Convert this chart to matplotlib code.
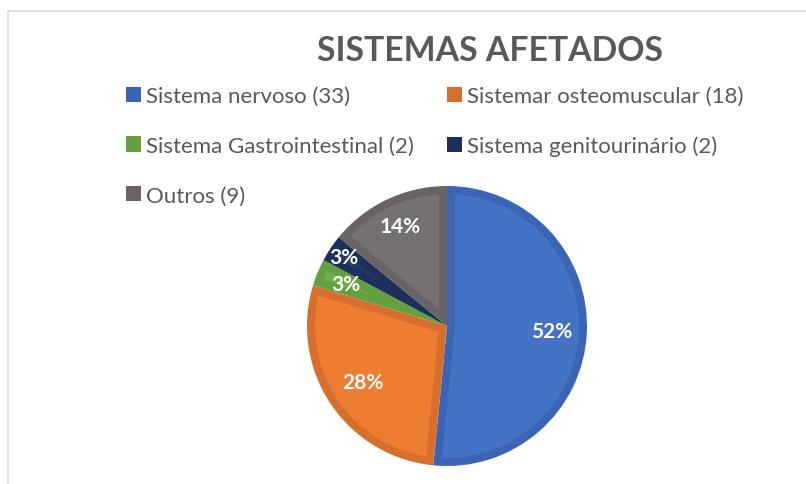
import numpy as np
import matplotlib
matplotlib.use("Agg")
import matplotlib.pyplot as plt
from matplotlib.patches import Patch, Rectangle, Polygon

# data
labels = ['Sistema nervoso (33)', 'Sistemar osteomuscular (18)',
          'Sistema Gastrointestinal (2)', 'Sistema genitourinário (2)',
          'Outros (9)']
values = [33, 18, 2, 2, 9]
colors = ['#4472C4', '#ED7D31', '#70AD47', '#203864', '#767171']
edges = ['#3B65B4', '#D56F2B', '#64A03F', '#1C3159', '#696464']
label_dist = [0.75, 0.72, 0.78, 0.885, 0.79]

plt.rcParams['font.family'] = ['Lato', 'DejaVu Sans']

W, H = 806, 485
fig = plt.figure(figsize=(W / 100, H / 100), dpi=100)

# chart frame (only top and left show)
fig.add_artist(Rectangle((8 / W, -0.1), 1.2, 1 - 12 / H + 0.1,
                         transform=fig.transFigure, fill=False,
                         edgecolor='#D9D9D9', lw=1.2))


def inset_wedge(t1, t2, R, d):
    # lighter inner part of a slice, set in by d from every edge
    t1, t2 = np.deg2rad(t1), np.deg2rad(t2)
    h = (t2 - t1) / 2
    s = np.sqrt((R - d) ** 2 - d ** 2)
    u1 = np.array([np.cos(t1), np.sin(t1)])
    n1 = np.array([-np.sin(t1), np.cos(t1)])
    u2 = np.array([np.cos(t2), np.sin(t2)])
    n2 = np.array([np.sin(t2), -np.cos(t2)])
    a1 = t1 + np.arctan2(d, s)
    a2 = t2 - np.arctan2(d, s)
    arc = np.linspace(a1, a2, 100)
    pts = [s * u1 + d * n1]
    pts += list(np.c_[(R - d) * np.cos(arc), (R - d) * np.sin(arc)])
    pts.append(s * u2 + d * n2)
    if h < np.pi / 2:
        mid = (t1 + t2) / 2
        pts.append(d / np.sin(h) * np.array([np.cos(mid), np.sin(mid)]))
    else:
        small = np.linspace(t2 - np.pi / 2, t1 + np.pi / 2, 20)
        pts += list(np.c_[d * np.cos(small), d * np.sin(small)])
    return np.array(pts)


# pie
cx, cy, r = 447, H - 327, 140
ax = fig.add_axes([(cx - r) / W, (cy - r) / H, 2 * r / W, 2 * r / H])
wedges, _ = ax.pie(values, colors=edges, startangle=90, counterclock=False,
                   radius=1, wedgeprops=dict(linewidth=0))
band = 8 / r
for w, c in zip(wedges, colors):
    ax.add_patch(Polygon(inset_wedge(w.theta1, w.theta2, 1, band),
                         closed=True, facecolor=c, edgecolor='none'))

total = sum(values)
for w, v, d in zip(wedges, values, label_dist):
    ang = np.deg2rad((w.theta1 + w.theta2) / 2)
    ax.text(d * np.cos(ang), d * np.sin(ang), '%d%%' % round(100 * v / total),
            ha='center', va='center', color='white', fontsize=15,
            fontweight='bold')
ax.set_xlim(-1, 1)
ax.set_ylim(-1, 1)
ax.set_aspect('equal')
ax.axis('off')

# title
fig.text(490 / W, 1 - 51 / H, 'SISTEMAS AFETADOS', ha='center', va='center',
         fontsize=24.3, fontweight='bold', color='#595959')

# legend, filled row by row like the original
order = [0, 2, 4, 1, 3]
handles = [Patch(facecolor=edges[i], edgecolor='none') for i in order]
fig.legend(handles, [labels[i] for i in order], ncol=2, frameon=False,
           loc='upper left', bbox_to_anchor=(126 / W, 1 - 87 / H),
           fontsize=16, labelcolor='#595959', handlelength=0.68,
           handleheight=0.68, handletextpad=0.22, labelspacing=1.34,
           columnspacing=1.5, borderpad=0, borderaxespad=0)

fig.savefig('out.png', dpi=100, facecolor='white')
